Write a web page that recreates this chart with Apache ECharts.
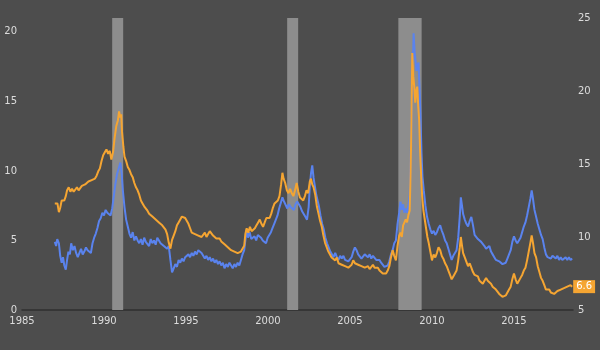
<!DOCTYPE html>
<html>
<head>
<meta charset="utf-8">
<script src="https://cdn.jsdelivr.net/npm/echarts@6/dist/echarts.min.js"></script>
<style>
  html, body { margin: 0; padding: 0; background: #4d4d4d; }
  #chart { width: 600px; height: 350px; }
</style>
</head>
<body>
<div id="chart"></div>
<script>
// Blue line, plotted on the left axis: [decimal year, value]
const bluePoints = [
  [1987.00,4.9],[1987.08,4.6],[1987.15,5.1],[1987.25,4.8],[1987.33,3.9],[1987.42,3.4],[1987.50,3.8],[1987.58,3.2],[1987.67,2.9],[1987.75,3.6],[1987.83,4.2],[1987.92,4.0],
  [1988.00,4.8],[1988.10,4.3],[1988.20,4.6],[1988.30,4.1],[1988.40,3.8],[1988.50,3.9],[1988.60,4.4],[1988.70,4.0],[1988.80,4.2],[1988.90,4.5],
  [1989.00,4.3],[1989.10,4.4],[1989.20,4.1],[1989.30,4.8],[1989.40,5.2],[1989.50,5.5],[1989.60,5.9],[1989.70,6.4],[1989.80,6.6],[1989.90,7.0],
  [1990.00,6.8],[1990.10,7.2],[1990.20,7.0],[1990.30,7.1],[1990.40,6.8],[1990.50,7.3],[1990.60,8.2],[1990.70,9.1],[1990.80,9.8],[1990.90,10.2],
  [1991.00,10.6],[1991.08,9.8],[1991.15,8.6],[1991.25,7.4],[1991.35,6.5],[1991.45,6.0],[1991.55,5.5],[1991.65,5.2],[1991.75,5.6],[1991.85,5.0],[1991.95,5.3],
  [1992.05,5.0],[1992.15,4.8],[1992.25,5.1],[1992.35,4.7],[1992.45,5.2],[1992.55,4.9],[1992.65,5.0],[1992.75,4.6],[1992.85,5.1],[1992.95,4.8],
  [1993.05,5.0],[1993.15,4.7],[1993.25,5.2],[1993.35,5.0],[1993.45,4.8],[1993.55,4.9],[1993.65,4.6],[1993.75,4.7],[1993.85,4.4],[1993.95,4.6],
  [1994.05,3.6],[1994.15,2.7],[1994.25,3.0],[1994.35,3.3],[1994.45,3.1],[1994.55,3.6],[1994.65,3.4],[1994.75,3.7],[1994.85,3.5],[1994.95,3.8],
  [1995.05,3.9],[1995.15,4.0],[1995.25,3.8],[1995.35,4.1],[1995.45,3.9],[1995.55,4.2],[1995.65,4.0],[1995.75,4.3],[1995.85,4.4],[1995.95,4.1],
  [1996.05,3.9],[1996.15,3.7],[1996.25,3.9],[1996.35,3.6],[1996.45,3.8],[1996.55,3.5],[1996.65,3.7],[1996.75,3.4],[1996.85,3.6],[1996.95,3.3],
  [1997.05,3.5],[1997.15,3.2],[1997.25,3.4],[1997.35,3.0],[1997.45,3.3],[1997.55,3.1],[1997.65,3.4],[1997.75,3.2],[1997.85,3.0],[1997.95,3.3],
  [1998.05,3.1],[1998.15,3.4],[1998.25,3.2],[1998.35,3.6],[1998.45,4.0],[1998.55,4.3],[1998.62,5.0],[1998.70,5.8],[1998.78,5.2],[1998.88,5.6],[1998.98,5.1],
  [1999.08,5.0],[1999.18,5.3],[1999.28,5.0],[1999.38,5.4],[1999.48,5.5],[1999.58,5.2],[1999.68,5.0],[1999.78,5.1],[1999.88,4.8],[1999.98,5.2],
  [2000.08,5.2],[2000.18,5.6],[2000.28,5.9],[2000.38,6.2],[2000.48,6.5],[2000.58,6.8],[2000.68,7.3],[2000.78,7.7],[2000.88,8.1],[2000.98,7.8],
  [2001.08,7.7],[2001.18,7.3],[2001.28,7.6],[2001.38,7.4],[2001.48,7.5],[2001.58,7.2],[2001.68,7.6],[2001.78,7.8],[2001.88,7.7],[2001.98,7.4],
  [2002.08,7.1],[2002.18,7.0],[2002.28,6.7],[2002.38,6.5],[2002.48,7.4],[2002.55,8.9],[2002.62,9.8],[2002.70,10.4],[2002.78,9.5],[2002.86,8.9],[2002.94,8.3],
  [2003.02,7.9],[2003.10,7.5],[2003.20,6.8],[2003.30,6.2],[2003.40,5.8],[2003.50,5.2],[2003.60,4.8],[2003.70,4.5],[2003.80,4.2],[2003.90,4.0],
  [2004.00,3.8],[2004.10,4.1],[2004.20,3.8],[2004.30,3.6],[2004.40,3.9],[2004.50,3.7],[2004.60,3.9],[2004.70,3.6],[2004.80,3.7],[2004.90,3.5],
  [2005.00,3.6],[2005.10,3.8],[2005.20,4.2],[2005.30,4.5],[2005.40,4.3],[2005.50,4.0],[2005.60,3.9],[2005.70,3.7],[2005.80,3.8],[2005.90,4.0],
  [2006.00,3.9],[2006.10,3.8],[2006.20,4.0],[2006.30,3.7],[2006.40,3.9],[2006.50,3.8],[2006.60,3.6],[2006.70,3.7],[2006.80,3.6],[2006.90,3.4],
  [2007.00,3.3],[2007.10,3.1],[2007.20,3.0],[2007.30,3.2],[2007.40,3.5],[2007.50,4.0],[2007.60,4.3],[2007.70,4.8],[2007.80,5.0],[2007.90,6.2],
  [2008.00,7.0],[2008.08,7.8],[2008.16,7.2],[2008.24,7.6],[2008.32,7.0],[2008.40,7.3],[2008.48,7.0],[2008.56,7.5],[2008.64,8.2],[2008.70,10.5],[2008.76,14.0],[2008.82,16.5],[2008.88,19.9],[2008.94,18.6],
  [2009.00,18.5],[2009.06,17.2],[2009.12,17.6],[2009.18,17.8],[2009.24,16.0],[2009.30,14.0],[2009.36,11.3],[2009.42,9.6],[2009.50,8.6],[2009.60,7.5],[2009.70,6.7],[2009.80,6.2],[2009.90,5.8],
  [2010.00,5.5],[2010.10,5.7],[2010.20,5.4],[2010.30,5.6],[2010.40,5.9],[2010.50,6.1],[2010.60,5.7],[2010.70,5.4],[2010.80,5.0],[2010.90,4.8],
  [2011.00,4.4],[2011.10,4.0],[2011.20,3.6],[2011.30,3.9],[2011.40,4.1],[2011.50,4.3],[2011.60,5.2],[2011.70,6.8],[2011.76,8.1],[2011.82,7.6],[2011.90,6.9],
  [2012.00,6.5],[2012.10,6.2],[2012.20,6.0],[2012.30,6.4],[2012.40,6.7],[2012.50,6.1],[2012.60,5.4],[2012.70,5.3],[2012.80,5.1],[2012.90,5.2],
  [2013.00,4.9],[2013.10,4.8],[2013.20,4.6],[2013.30,4.4],[2013.40,4.3],[2013.50,4.6],[2013.60,4.2],[2013.70,4.0],[2013.80,3.8],[2013.90,3.6],
  [2014.00,3.7],[2014.10,3.5],[2014.20,3.6],[2014.30,3.3],[2014.40,3.2],[2014.50,3.4],[2014.60,3.7],[2014.70,4.0],[2014.80,4.3],[2014.90,4.9],
  [2015.00,5.3],[2015.10,5.0],[2015.20,4.8],[2015.30,4.9],[2015.40,5.2],[2015.50,5.6],[2015.60,6.0],[2015.70,6.3],[2015.80,6.8],[2015.90,7.4],
  [2016.00,8.0],[2016.08,8.6],[2016.16,8.0],[2016.25,7.2],[2016.35,6.7],[2016.45,6.2],[2016.55,5.8],[2016.65,5.4],[2016.75,5.1],[2016.85,4.5],[2016.95,4.0],
  [2017.05,3.8],[2017.15,3.9],[2017.25,3.7],[2017.35,3.9],[2017.45,3.8],[2017.55,3.7],[2017.65,3.9],[2017.75,3.6],[2017.85,3.8],[2017.95,3.6],
  [2018.05,3.7],[2018.15,3.8],[2018.25,3.6],[2018.35,3.8],[2018.45,3.6],[2018.55,3.7]
];

// Orange line, plotted on the right axis: [decimal year, value]
const orangePoints = [
  [1987.00,12.3],[1987.08,12.2],[1987.16,12.3],[1987.25,11.7],[1987.33,12.0],[1987.42,12.5],[1987.50,12.6],[1987.58,12.5],[1987.67,12.8],[1987.75,13.2],[1987.85,13.4],[1987.95,13.1],
  [1988.05,13.3],[1988.15,13.1],[1988.25,13.2],[1988.35,13.4],[1988.45,13.2],[1988.55,13.3],[1988.65,13.5],[1988.75,13.4],[1988.85,13.6],[1988.95,13.5],
  [1989.05,13.8],[1989.15,13.7],[1989.25,13.9],[1989.35,13.8],[1989.45,14.0],[1989.55,14.2],[1989.65,14.5],[1989.75,14.7],[1989.85,15.2],[1989.95,15.6],
  [1990.05,15.8],[1990.15,16.0],[1990.25,15.7],[1990.35,15.9],[1990.45,15.3],[1990.55,15.8],[1990.65,16.8],[1990.75,17.6],[1990.85,18.0],[1990.92,18.6],[1990.98,18.2],
  [1991.05,18.4],[1991.10,17.2],[1991.18,16.2],[1991.25,15.5],[1991.35,15.2],[1991.45,14.8],[1991.55,14.6],[1991.65,14.3],[1991.75,14.1],[1991.85,13.7],[1991.95,13.4],
  [1992.05,13.2],[1992.15,12.9],[1992.25,12.5],[1992.35,12.3],[1992.45,12.1],[1992.55,12.0],[1992.65,11.8],[1992.75,11.6],[1992.85,11.7],[1992.95,11.4],
  [1993.05,11.5],[1993.15,11.2],[1993.25,11.3],[1993.35,11.0],[1993.45,11.1],[1993.55,10.8],[1993.65,10.7],[1993.75,10.5],[1993.85,10.2],[1993.95,9.6],
  [1994.05,9.2],[1994.15,9.8],[1994.25,10.1],[1994.35,10.4],[1994.45,10.8],[1994.55,11.0],[1994.65,11.2],[1994.75,11.4],[1994.85,11.5],[1994.95,11.3],
  [1995.05,11.2],[1995.15,10.9],[1995.25,10.6],[1995.35,10.3],[1995.45,10.4],[1995.55,10.2],[1995.65,10.3],[1995.75,10.1],[1995.85,10.2],[1995.95,10.0],
  [1996.05,10.1],[1996.15,10.3],[1996.25,10.0],[1996.35,10.2],[1996.45,10.4],[1996.55,10.3],[1996.65,10.1],[1996.75,10.0],[1996.85,9.9],[1996.95,9.8],
  [1997.05,9.9],[1997.15,9.7],[1997.25,9.6],[1997.35,9.5],[1997.45,9.6],[1997.55,9.3],[1997.65,9.4],[1997.75,9.1],[1997.85,9.2],[1997.95,9.0],
  [1998.05,9.1],[1998.15,8.9],[1998.25,8.8],[1998.35,9.0],[1998.45,9.1],[1998.55,9.4],[1998.62,10.2],[1998.70,10.6],[1998.80,10.3],[1998.90,10.7],
  [1999.00,10.4],[1999.10,10.3],[1999.20,10.6],[1999.30,10.8],[1999.40,11.0],[1999.50,11.2],[1999.60,10.9],[1999.70,10.7],[1999.80,11.0],[1999.90,11.3],
  [2000.00,11.4],[2000.10,11.3],[2000.20,11.6],[2000.30,12.0],[2000.40,12.3],[2000.50,12.2],[2000.60,12.5],[2000.70,12.8],[2000.80,13.6],[2000.88,14.4],[2000.95,14.0],
  [2001.05,13.7],[2001.15,13.2],[2001.25,13.0],[2001.35,13.3],[2001.45,13.0],[2001.55,12.8],[2001.65,13.2],[2001.75,13.7],[2001.85,13.1],[2001.95,12.7],
  [2002.05,12.6],[2002.15,12.5],[2002.25,12.8],[2002.35,13.2],[2002.45,13.0],[2002.55,13.8],[2002.62,14.0],[2002.70,13.6],[2002.78,13.4],[2002.88,12.9],[2002.98,12.1],
  [2003.08,11.6],[2003.18,11.1],[2003.28,10.7],[2003.38,10.1],[2003.48,9.6],[2003.58,9.3],[2003.68,9.0],[2003.78,8.8],[2003.88,8.6],[2003.98,8.5],
  [2004.10,8.4],[2004.20,8.6],[2004.30,8.2],[2004.40,8.3],[2004.50,8.1],[2004.60,8.2],[2004.70,8.0],[2004.80,8.1],[2004.90,7.9],
  [2005.00,7.9],[2005.10,8.1],[2005.20,8.4],[2005.30,8.2],[2005.40,8.3],[2005.50,8.1],[2005.60,8.2],[2005.70,8.0],[2005.80,8.1],[2005.90,7.9],
  [2006.00,7.9],[2006.10,8.0],[2006.20,7.8],[2006.30,7.9],[2006.40,8.1],[2006.50,7.9],[2006.60,7.8],[2006.70,7.9],[2006.80,7.7],[2006.90,7.6],
  [2007.00,7.5],[2007.10,7.6],[2007.20,7.5],[2007.30,7.7],[2007.40,8.0],[2007.50,8.6],[2007.60,9.1],[2007.70,8.7],[2007.80,8.4],[2007.90,9.4],
  [2008.00,10.1],[2008.08,10.3],[2008.16,10.0],[2008.24,10.8],[2008.32,10.9],[2008.40,11.2],[2008.48,11.0],[2008.56,11.5],[2008.64,11.8],[2008.70,14.5],[2008.75,18.0],[2008.80,22.6],[2008.86,21.0],[2008.92,20.3],[2008.98,19.2],
  [2009.04,20.0],[2009.10,20.3],[2009.16,19.0],[2009.22,18.0],[2009.28,15.8],[2009.34,14.2],[2009.40,12.8],[2009.48,11.8],[2009.56,11.2],[2009.64,10.6],[2009.72,10.0],[2009.80,9.6],[2009.90,9.0],
  [2010.00,8.4],[2010.10,8.8],[2010.20,8.6],[2010.30,8.9],[2010.40,9.3],[2010.50,9.1],[2010.60,8.7],[2010.70,8.5],[2010.80,8.2],[2010.90,8.0],
  [2011.00,7.7],[2011.10,7.4],[2011.20,7.1],[2011.30,7.3],[2011.40,7.5],[2011.50,7.7],[2011.60,8.4],[2011.70,9.3],[2011.76,10.0],[2011.82,9.5],[2011.90,8.9],
  [2012.00,8.6],[2012.10,8.3],[2012.20,8.0],[2012.30,8.2],[2012.40,7.9],[2012.50,7.6],[2012.60,7.4],[2012.70,7.3],[2012.80,7.3],[2012.90,7.0],
  [2013.00,6.9],[2013.10,6.8],[2013.20,7.0],[2013.30,7.2],[2013.40,7.0],[2013.50,7.1],[2013.60,6.8],[2013.70,6.6],[2013.80,6.6],[2013.90,6.4],
  [2014.00,6.3],[2014.10,6.1],[2014.20,6.0],[2014.30,5.9],[2014.40,5.8],[2014.50,6.0],[2014.60,6.2],[2014.70,6.4],[2014.80,6.6],[2014.90,7.1],
  [2015.00,7.5],[2015.10,7.1],[2015.20,6.8],[2015.30,6.9],[2015.40,7.2],[2015.50,7.4],[2015.60,7.7],[2015.70,7.9],[2015.80,8.4],[2015.90,9.0],
  [2016.00,9.6],[2016.08,10.1],[2016.16,9.6],[2016.25,8.9],[2016.35,8.6],[2016.45,8.0],[2016.55,7.6],[2016.65,7.2],[2016.75,7.0],[2016.85,6.7],[2016.95,6.4],
  [2017.05,6.3],[2017.15,6.4],[2017.25,6.2],[2017.35,6.3],[2017.45,6.1],[2017.55,6.2],[2017.65,6.3],[2017.75,6.2],[2017.85,6.4],[2017.95,6.3],
  [2018.05,6.5],[2018.15,6.4],[2018.25,6.6],[2018.35,6.5],[2018.45,6.7],[2018.55,6.6]
];

// Shaded recession periods: [start, end] in decimal years
const recessions = [
  [1990.50, 1991.17],
  [2001.17, 2001.84],
  [2007.95, 2009.37]
];

const xRange = [1985, 2018.6];
const leftRange = [0, 21];
const rightRange = [5, 25];
const tickStep = 5;

const textColor = '#dcdcdc';
const blueColor = '#5a83ee';
const orangeColor = '#f5a532';

const fiveStep = v => (Math.abs(v % tickStep) < 1e-9 ? String(v) : '');

const chart = echarts.init(document.getElementById('chart'), null, { renderer: 'canvas' });

chart.setOption({
  backgroundColor: '#4d4d4d',
  animation: false,
  grid: { left: 22, right: 27, top: 18, bottom: 40, containLabel: false },
  xAxis: {
    type: 'value',
    min: xRange[0],
    max: xRange[1],
    interval: tickStep,
    axisLine: { show: true, lineStyle: { color: '#2f2f2f', width: 1.5 } },
    axisTick: { show: false },
    splitLine: { show: false },
    axisLabel: {
      color: textColor, fontSize: 10, fontFamily: 'DejaVu Sans', margin: 6,
      formatter: fiveStep, showMaxLabel: false
    }
  },
  yAxis: [
    {
      type: 'value',
      position: 'left',
      min: leftRange[0],
      max: leftRange[1],
      interval: tickStep,
      axisLine: { show: false },
      axisTick: { show: false },
      splitLine: { show: false },
      axisLabel: { color: textColor, fontSize: 10, fontFamily: 'DejaVu Sans', margin: 5, formatter: fiveStep }
    },
    {
      type: 'value',
      position: 'right',
      min: rightRange[0],
      max: rightRange[1],
      interval: tickStep,
      axisLine: { show: false },
      axisTick: { show: false },
      splitLine: { show: false },
      axisLabel: { color: textColor, fontSize: 10, fontFamily: 'DejaVu Sans', margin: 5, formatter: fiveStep }
    }
  ],
  series: [
    {
      type: 'line',
      yAxisIndex: 0,
      data: bluePoints,
      showSymbol: false,
      lineStyle: { color: blueColor, width: 2 },
      itemStyle: { color: blueColor },
      z: 3,
      markArea: {
        silent: true,
        itemStyle: { color: '#8d8d8d', opacity: 1 },
        data: recessions.map(r => [{ xAxis: r[0] }, { xAxis: r[1] }])
      }
    },
    {
      type: 'line',
      yAxisIndex: 1,
      data: orangePoints,
      showSymbol: false,
      lineStyle: { color: orangeColor, width: 2 },
      itemStyle: { color: orangeColor },
      z: 4,
      endLabel: {
        show: true,
        formatter: p => p.value[1].toFixed(1),
        color: '#ffffff',
        backgroundColor: orangeColor,
        padding: [2, 3, 1, 3],
        fontSize: 10,
        fontFamily: 'DejaVu Sans',
        distance: 1
      }
    }
  ]
});
</script>
</body>
</html>
